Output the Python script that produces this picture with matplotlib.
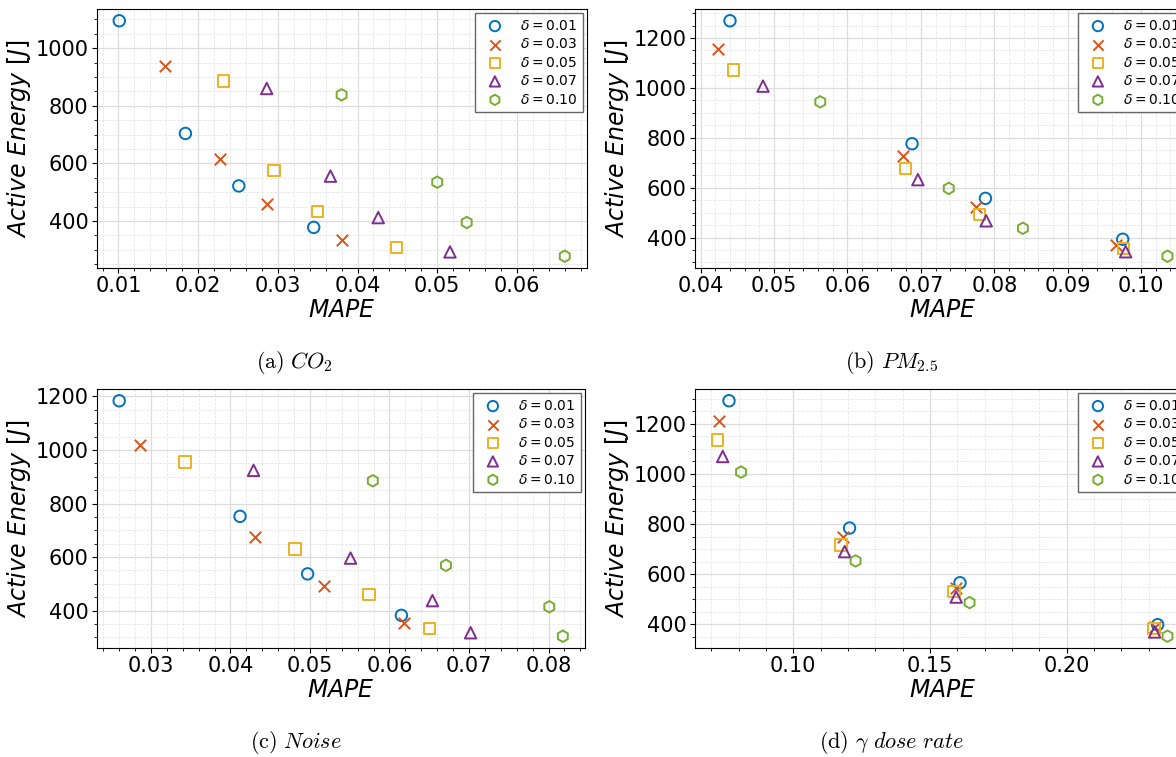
import matplotlib
matplotlib.use("Agg")
import matplotlib.pyplot as plt

# ---------------- data ----------------
deltas = ["0.01", "0.03", "0.05", "0.07", "0.10"]
colors = ["#0072BD", "#D95319", "#EDB120", "#7E2F8E", "#77AC30"]
markers = ["o", "x", "s", "^", "h"]

# (a) CO2 : one list per delta
co2_mape = [
    [0.0101, 0.0184, 0.0251, 0.0345],
    [0.0159, 0.0228, 0.0286, 0.0381],
    [0.0232, 0.0295, 0.0350, 0.0449],
    [0.0286, 0.0366, 0.0426, 0.0516],
    [0.0380, 0.0500, 0.0537, 0.0660],
]
co2_energy = [
    [1095, 704, 522, 378],
    [939, 616, 458, 335],
    [886, 575, 433, 309],
    [860, 556, 412, 293],
    [838, 535, 395, 278],
]

# (b) PM2.5
pm_mape = [
    [0.0440, 0.0688, 0.0788, 0.0975],
    [0.0423, 0.0676, 0.0775, 0.0966],
    [0.0445, 0.0679, 0.0780, 0.0976],
    [0.0485, 0.0696, 0.0789, 0.0979],
    [0.0563, 0.0738, 0.0839, 0.1036],
]
pm_energy = [
    [1269, 776, 557, 393],
    [1156, 725, 524, 371],
    [1072, 677, 493, 356],
    [1007, 632, 467, 343],
    [944, 597, 437, 325],
]

# (c) Noise
noise_mape = [
    [0.0260, 0.0412, 0.0497, 0.0615],
    [0.0286, 0.0431, 0.0517, 0.0618],
    [0.0343, 0.0481, 0.0574, 0.0650],
    [0.0429, 0.0551, 0.0654, 0.0702],
    [0.0579, 0.0671, 0.0801, 0.0818],
]
noise_energy = [
    [1184, 752, 537, 382],
    [1017, 675, 490, 354],
    [956, 630, 459, 332],
    [924, 596, 437, 317],
    [885, 569, 414, 304],
]

# (d) gamma dose rate
gamma_mape = [
    [0.0765, 0.1206, 0.1610, 0.2333],
    [0.0728, 0.1182, 0.1595, 0.2323],
    [0.0723, 0.1175, 0.1588, 0.2320],
    [0.0742, 0.1188, 0.1596, 0.2322],
    [0.0809, 0.1228, 0.1645, 0.2369],
]
gamma_energy = [
    [1291, 784, 566, 399],
    [1212, 749, 545, 391],
    [1134, 716, 531, 383],
    [1069, 690, 509, 370],
    [1007, 653, 487, 353],
]

captions = [r"$\mathrm{(a)}\ CO_2$", r"$\mathrm{(b)}\ PM_{2.5}$",
            r"$\mathrm{(c)}\ Noise$", r"$\mathrm{(d)}\ \gamma\ dose\ rate$"]

# ---------------- figure ----------------
W, H = 1176, 757
fig = plt.figure(figsize=(W / 100, H / 100), dpi=100)

def px_axes(x0, x1, y0, y1):
    return fig.add_axes([x0 / W, (H - y1) / H, (x1 - x0) / W, (y1 - y0) / H])

axes = [
    px_axes(97, 587, 9, 268),
    px_axes(695, 1190, 9, 268),
    px_axes(97, 585, 389, 648),
    px_axes(695, 1190, 389, 648),
]
panels = [(co2_mape, co2_energy), (pm_mape, pm_energy),
          (noise_mape, noise_energy), (gamma_mape, gamma_energy)]

for ax, (mx, en) in zip(axes, panels):
    for d, c, m, xs, ys in zip(deltas, colors, markers, mx, en):
        if m == "x":
            ax.scatter(xs, ys, marker=m, s=68, color=c, linewidths=1.4,
                       label=r"$\delta = %s$" % d, zorder=3)
        else:
            ax.scatter(xs, ys, marker=m, s=68, facecolors="none",
                       edgecolors=c, linewidths=1.4,
                       label=r"$\delta = %s$" % d, zorder=3)
    ax.minorticks_on()
    ax.grid(True, which="major", color="#dcdcdc", linewidth=0.9, linestyle="-")
    ax.grid(True, which="minor", color="#e6e6e6", linewidth=0.6, linestyle="--")
    ax.set_axisbelow(True)
    ax.tick_params(axis="both", which="major", labelsize=15, pad=2.5)
    ax.set_xlabel(r"$MAPE$", fontsize=17, labelpad=1)
    ax.set_ylabel(r"$Active\ Energy\ [J]$", fontsize=17, labelpad=2)
    for sp in ax.spines.values():
        sp.set_color("black")
    leg = ax.legend(loc="upper right", fontsize=10, fancybox=False,
                    edgecolor="#666666", framealpha=1.0, markerscale=0.9,
                    labelspacing=0.32, borderaxespad=0.3)
    leg.get_frame().set_linewidth(1.0)

cap_pos = [(294, 362), (892, 362), (296, 742), (892, 742)]
for (cx, cy), t in zip(cap_pos, captions):
    fig.text(cx / W, 1 - cy / H, t, ha="center", va="center",
             fontsize=16, math_fontfamily="cm")

fig.savefig("out.png", dpi=100)
